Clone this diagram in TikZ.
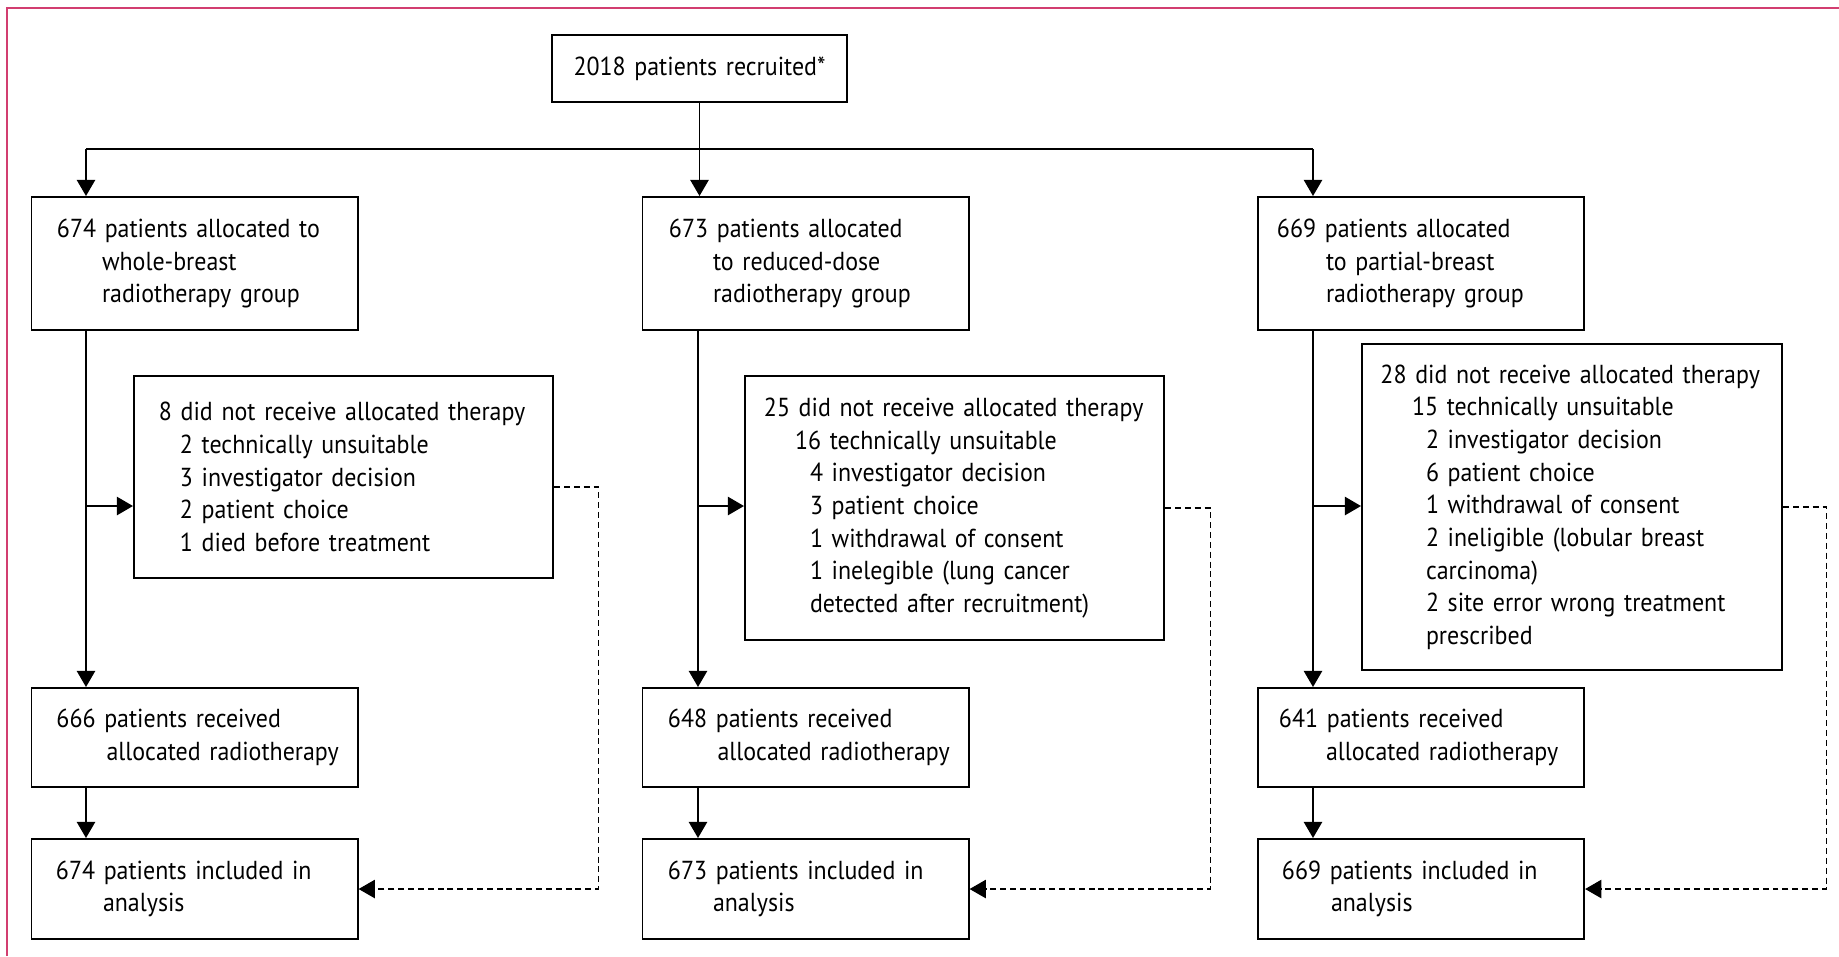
\documentclass[tikz,border=0pt]{standalone}
\usepackage{fontspec}
\setmainfont{PT Sans}[FakeStretch=0.92, WordSpace=0.7]
\usepackage{tikz}
\usetikzlibrary{arrows.meta, positioning, calc}

\definecolor{framepink}{RGB}{210,62,112}

\tikzset{
  box/.style={draw, line width=0.55pt, anchor=north west, align=left,
              inner sep=0pt, text width=3.26cm,
              font=\fontsize{7.4}{9.28}\selectfont},
  flow/.style={line width=0.55pt, -{Triangle[length=4.6pt,width=5.2pt]}},
  back/.style={line width=0.35pt, dash pattern=on 1.7pt off 1.1pt,
               -{Triangle[length=4.6pt,width=5.2pt]}},
}

\begin{document}
\begin{tikzpicture}[x=0.01cm, y=-0.01cm]
  \useasboundingbox (0,0) rectangle (1839,956);
  \draw[framepink, line width=0.6pt] (6.7,956) -- (6.7,8.3) -- (1839,8.3);

  \node[box, text width=2.95cm, anchor=center, align=center, minimum height=0.67cm]
    (recruit) at (699.5,68.5) {2018 patients recruited*};

  % allocation
  \node[box, minimum height=1.33cm] (allocA) at (30.5,196)
    {\hspace*{0.255cm}674 patients allocated to\\
     \hspace*{0.705cm}whole-breast\\\hspace*{0.705cm}radiotherapy group};
  \node[box, minimum height=1.33cm] (allocB) at (641.5,196)
    {\hspace*{0.265cm}673 patients allocated\\
     \hspace*{0.705cm}to reduced-dose\\\hspace*{0.705cm}radiotherapy group};
  \node[box, minimum height=1.33cm] (allocC) at (1257,196)
    {\hspace*{0.19cm}669 patients allocated\\
     \hspace*{0.68cm}to partial-breast\\\hspace*{0.68cm}radiotherapy group};

  % exclusions
  \node[box, text width=4.19cm, minimum height=2.02cm] (exclA) at (133,375)
    {\hspace*{0.25cm}8 did not receive allocated therapy\\
     \hspace*{0.46cm}2 technically unsuitable\\
     \hspace*{0.46cm}3 investigator decision\\
     \hspace*{0.46cm}2 patient choice\\
     \hspace*{0.46cm}1 died before treatment};
  \node[box, text width=4.19cm, minimum height=2.64cm] (exclB) at (744,375)
    {\hspace*{0.19cm}25 did not receive allocated therapy\\
     \hspace*{0.5cm}16 technically unsuitable\\
     \hspace*{0.65cm}4 investigator decision\\
     \hspace*{0.65cm}3 patient choice\\
     \hspace*{0.65cm}1 withdrawal of consent\\
     \hspace*{0.65cm}1 inelegible (lung cancer\\
     \hspace*{0.65cm}detected after recruitment)};
  \node[box, text width=4.2cm, minimum height=3.26cm] (exclC) at (1361,343)
    {\hspace*{0.185cm}28 did not receive allocated therapy\\
     \hspace*{0.5cm}15 technically unsuitable\\
     \hspace*{0.64cm}2 investigator decision\\
     \hspace*{0.64cm}6 patient choice\\
     \hspace*{0.64cm}1 withdrawal of consent\\
     \hspace*{0.64cm}2 ineligible (lobular breast\\
     \hspace*{0.64cm}carcinoma)\\
     \hspace*{0.64cm}2 site error wrong treatment\\
     \hspace*{0.64cm}prescribed};

  % received
  \node[box, minimum height=0.99cm] (recvA) at (30.5,687)
    {\hspace*{0.25cm}666 patients received\\
     \hspace*{0.75cm}allocated radiotherapy};
  \node[box, minimum height=0.99cm] (recvB) at (641.5,687)
    {\hspace*{0.255cm}648 patients received\\
     \hspace*{0.75cm}allocated radiotherapy};
  \node[box, minimum height=0.99cm] (recvC) at (1257,687)
    {\hspace*{0.21cm}641 patients received\\
     \hspace*{0.68cm}allocated radiotherapy};

  % analysis
  \node[box, minimum height=1.0cm] (inclA) at (30.5,838)
    {\hspace*{0.245cm}674 patients included in\\
     \hspace*{0.715cm}analysis};
  \node[box, minimum height=1.0cm] (inclB) at (641.5,838)
    {\hspace*{0.255cm}673 patients included in\\
     \hspace*{0.705cm}analysis};
  \node[box, minimum height=1.0cm] (inclC) at (1257,838)
    {\hspace*{0.24cm}669 patients included in\\
     \hspace*{0.73cm}analysis};

  \coordinate (spA) at (86,149);
  \coordinate (spB) at (698,149);
  \coordinate (spC) at (1313,149);

  \draw[line width=0.55pt] (recruit.south) -- (recruit.south |- spB);
  \draw[line width=0.55pt] (spA) -- (spC);
  \draw[flow] (spA) -- (spA |- allocA.north);
  \draw[flow] (recruit.south |- spB) -- (recruit.south |- allocB.north);
  \draw[flow] (spC) -- (spC |- allocC.north);

  \draw[flow] (spA |- allocA.south) -- (spA |- recvA.north);
  \draw[flow] (spB |- allocB.south) -- (spB |- recvB.north);
  \draw[flow] (spC |- allocC.south) -- (spC |- recvC.north);

  \coordinate (brA) at (86,506);
  \coordinate (brB) at (698,506);
  \coordinate (brC) at (1313,506);
  \draw[flow] (brA) -- (brA -| exclA.west);
  \draw[flow] (brB) -- (brB -| exclB.west);
  \draw[flow] (brC) -- (brC -| exclC.west);

  \draw[flow] (spA |- recvA.south) -- (spA |- inclA.north);
  \draw[flow] (spB |- recvB.south) -- (spB |- inclB.north);
  \draw[flow] (spC |- recvC.south) -- (spC |- inclC.north);

  \draw[back] ($(exclA.east)+(0,10)$) -- ++(44,0) |- (inclA.east);
  \draw[back] (exclB.east) -- ++(45,0) |- (inclB.east);
  \draw[back] (exclC.east) -- ++(43,0) |- (inclC.east);
\end{tikzpicture}
\end{document}
